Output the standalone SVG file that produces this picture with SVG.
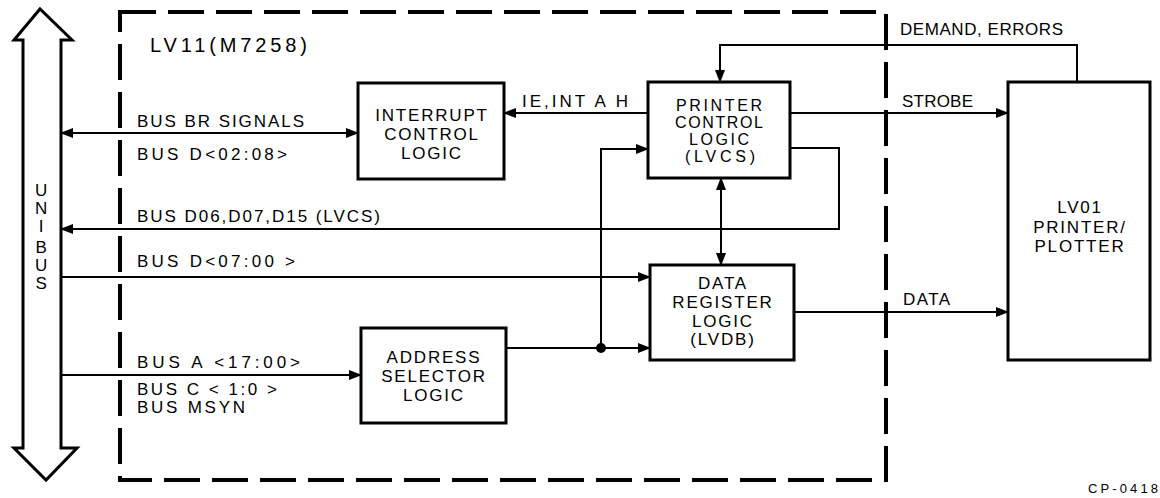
<svg xmlns="http://www.w3.org/2000/svg" width="1160" height="498" viewBox="0 0 1160 498">
<style>
text{font-family:"Liberation Sans",Arial,sans-serif;font-size:17px;fill:#000;letter-spacing:1.8px}
.c{text-anchor:middle}
.t{letter-spacing:0}
.box{fill:#fff;stroke:#000;stroke-width:3}
.ln{fill:none;stroke:#000;stroke-width:2}
.small{font-size:13px}
.big{font-size:20px}
.tight{font-size:16px;letter-spacing:0}
</style>
<defs>
<marker id="ah" markerUnits="userSpaceOnUse" markerWidth="13" markerHeight="10" refX="12" refY="5" orient="auto-start-reverse">
<path d="M0,0 L13,5 L0,10 z" fill="#000"/>
</marker>
</defs>
<rect width="1160" height="498" fill="#fff"/>

<g id="unibus">
<path d="M23,40 L14,40 L40,9 L72,40 L61,40 L61,448 L77,448 L46,480 L14,448 L23,448 Z" fill="#fff" stroke="#000" stroke-width="3" stroke-linejoin="miter"/>
<text class="c" x="42" y="196">U</text>
<text class="c" x="42" y="214">N</text>
<text class="c" x="42" y="232">I</text>
<text class="c" x="42" y="253">B</text>
<text class="c" x="42" y="271">U</text>
<text class="c" x="42" y="289">S</text>
</g>

<g id="lv11">
<path d="M120,12 H886 V480 H120 Z" fill="none" stroke="#000" stroke-width="4" stroke-dasharray="36 12"/>
<text class="big t" x="150" y="52" textLength="157" lengthAdjust="spacing">LV11(M7258)</text>
</g>

<g id="connectors">
<path class="ln" d="M61,133 H358" marker-start="url(#ah)" marker-end="url(#ah)"/>
<path class="ln" d="M648,113 H504" marker-end="url(#ah)"/>
<path class="ln" d="M1077,82 V45 H720 V82" marker-end="url(#ah)"/>
<path class="ln" d="M790,113 H1008" marker-end="url(#ah)"/>
<path class="ln" d="M790,148 H839 V229 H61" marker-end="url(#ah)"/>
<path class="ln" d="M721,178 V265" marker-start="url(#ah)" marker-end="url(#ah)"/>
<path class="ln" d="M61,277 H650" marker-end="url(#ah)"/>
<path class="ln" d="M61,375 H361" marker-end="url(#ah)"/>
<path class="ln" d="M506,348 H650" marker-end="url(#ah)"/>
<path class="ln" d="M601,348 V149 H648" marker-end="url(#ah)"/>
<circle cx="601" cy="348" r="5" fill="#000"/>
<path class="ln" d="M794,312 H1008" marker-end="url(#ah)"/>
<text class="t" x="137" y="127" textLength="167" lengthAdjust="spacing">BUS BR SIGNALS</text>
<text class="t" x="137" y="160" textLength="150" lengthAdjust="spacing">BUS D&lt;02:08&gt;</text>
<text class="t" x="137" y="222" textLength="243" lengthAdjust="spacing">BUS D06,D07,D15 (LVCS)</text>
<text class="t" x="137" y="267" textLength="158" lengthAdjust="spacing">BUS D&lt;07:00 &gt;</text>
<text class="t" x="137" y="368" textLength="163" lengthAdjust="spacing">BUS A &lt;17:00&gt;</text>
<text class="t" x="137" y="395" textLength="140" lengthAdjust="spacing">BUS C &lt; 1:0 &gt;</text>
<text class="t" x="137" y="413" textLength="108" lengthAdjust="spacing">BUS MSYN</text>
<text class="t" x="522" y="107" textLength="106" lengthAdjust="spacing">IE,INT A H</text>
<text class="t" x="900" y="35" textLength="163" lengthAdjust="spacing">DEMAND, ERRORS</text>
<text class="t" x="902" y="107" textLength="71" lengthAdjust="spacing">STROBE</text>
<text class="t" x="903" y="305" textLength="47" lengthAdjust="spacing">DATA</text>
</g>

<g id="interrupt">
<rect class="box" x="358" y="83" width="146" height="96"/>
<text class="c" x="432" y="121">INTERRUPT</text>
<text class="c" x="432" y="140">CONTROL</text>
<text class="c" x="432" y="159">LOGIC</text>
</g>

<g id="printer-control">
<rect class="box" x="648" y="82" width="142" height="96"/>
<text class="c tight" x="719" y="111" textLength="86" lengthAdjust="spacing">PRINTER</text>
<text class="c tight" x="719" y="128" textLength="88" lengthAdjust="spacing">CONTROL</text>
<text class="c tight" x="719" y="145" textLength="60" lengthAdjust="spacing">LOGIC</text>
<text class="c tight" x="720" y="162" textLength="70" lengthAdjust="spacing">(LVCS)</text>
</g>

<g id="data-register">
<rect class="box" x="650" y="265" width="144" height="95"/>
<text class="c" x="723" y="289">DATA</text>
<text class="c" x="723" y="308">REGISTER</text>
<text class="c" x="723" y="327">LOGIC</text>
<text class="c" x="723" y="345">(LVDB)</text>
</g>

<g id="address-selector">
<rect class="box" x="361" y="328" width="145" height="95"/>
<text class="c" x="434" y="363">ADDRESS</text>
<text class="c" x="434" y="382">SELECTOR</text>
<text class="c" x="434" y="401">LOGIC</text>
</g>

<g id="lv01">
<rect class="box" x="1008" y="82" width="142" height="278"/>
<text class="c" x="1080" y="213">LV01</text>
<text class="c" x="1080" y="233">PRINTER/</text>
<text class="c" x="1080" y="252">PLOTTER</text>
</g>

<text class="small t" x="1088" y="493" textLength="70" lengthAdjust="spacing">CP-0418</text>
</svg>
